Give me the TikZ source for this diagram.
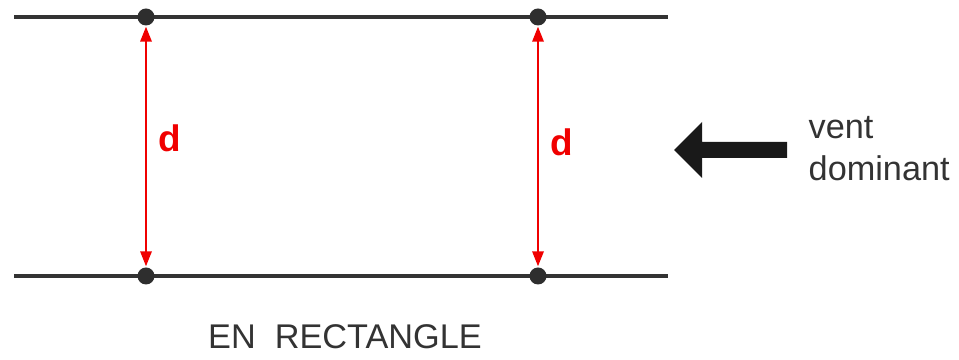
\documentclass[tikz,border=0pt]{standalone}
\usepackage{fontspec}
\setmainfont{Liberation Sans}
\usepackage{tikz}
\usetikzlibrary{arrows.meta,positioning,calc}
\definecolor{linegray}{HTML}{333333}
\definecolor{dred}{HTML}{F00000}
\tikzstyle{rowline}=[draw=linegray, line width=2.2pt]
\tikzstyle{treedot}=[circle, fill=linegray!90!black, inner sep=0pt, minimum size=0.34cm]
\tikzstyle{spacing}=[<->, >={Triangle[length=3mm,width=2.3mm]}, draw=dred, fill=dred, line width=1pt, shorten <=0.5pt, shorten >=0.5pt]
\tikzstyle{dlabel}=[text=dred, font=\fontsize{21}{24}\selectfont\bfseries]
\tikzstyle{caption}=[font=\fontsize{19.5}{24}\selectfont, text=linegray]

\begin{document}
\begin{tikzpicture}
  \useasboundingbox (0,0) rectangle (19.18,7.2);

  % the two rows
  \coordinate (tl) at (0.28,6.86);
  \coordinate (tr) at (13.36,6.86);
  \coordinate (bl) at (0.28,1.68);
  \coordinate (br) at (13.36,1.68);
  \draw[rowline] (tl) -- (tr);
  \draw[rowline] (bl) -- (br);

  % trees
  \node[treedot] (t1) at (2.92,6.86) {};
  \node[treedot] (t2) at (10.76,6.86) {};
  \node[treedot] (b1) at (2.92,1.68) {};
  \node[treedot] (b2) at (10.76,1.68) {};

  % spacing between rows
  \draw[spacing] (t1) -- (b1);
  \draw[spacing] (t2) -- (b2);
  \node[dlabel] (d1) at (3.4,4.44) {d};
  \node[dlabel] (d2) at (11.24,4.36) {d};

  % wind
  \fill[black!90] (13.48,4.2) -- (14.04,4.76) -- (14.04,4.36) -- (15.74,4.36)
    -- (15.74,4.04) -- (14.04,4.04) -- (14.04,3.64) -- cycle;
  \node[caption, anchor=west, align=left] (wind) at (16.05,4.22) {vent\\dominant};

  \node[caption] (title) at (6.9,0.46) {EN\ \ RECTANGLE};
\end{tikzpicture}
\end{document}
